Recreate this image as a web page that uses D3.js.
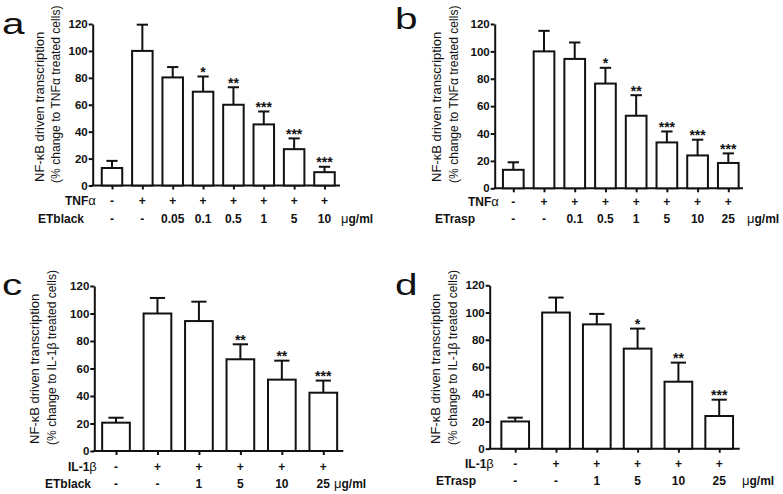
<!DOCTYPE html>
<html>
<head>
<meta charset="utf-8">
<script src="https://cdn.jsdelivr.net/npm/d3@7"></script>
<style>
  html, body { margin: 0; padding: 0; background: #ffffff; }
  svg { display: block; }
  text { font-family: "Liberation Sans", Arial, Helvetica, sans-serif; fill: #111; }
</style>
</head>
<body>
<svg id="chart" width="783" height="494"></svg>
<script>
// ---------------- DATA ----------------
const yTicks = [0, 20, 40, 60, 80, 100, 120];

// Panel a: TNFα + ETblack
const aStim  = ["-", "+", "+", "+", "+", "+", "+", "+"];
const aConc  = ["-", "-", "0.05", "0.1", "0.5", "1", "5", "10"];
const aMean  = [13, 100, 80.3, 69.7, 60, 45.4, 27, 9.9];
const aSem   = [5.3, 19.5, 7.7, 11.3, 13, 9.6, 8, 4];
const aSig   = ["", "", "", "*", "**", "***", "***", "***"];

// Panel b: TNFα + ETrasp
const bStim  = ["-", "+", "+", "+", "+", "+", "+", "+"];
const bConc  = ["-", "-", "0.1", "0.5", "1", "5", "10", "25"];
const bMean  = [13.5, 100, 94.5, 76.5, 53, 33.5, 24, 18.5];
const bSem   = [5.5, 15, 12, 11.5, 15, 8, 11.5, 7];
const bSig   = ["", "", "", "*", "**", "***", "***", "***"];

// Panel c: IL-1β + ETblack
const cStim  = ["-", "+", "+", "+", "+", "+"];
const cConc  = ["-", "-", "1", "5", "10", "25"];
const cMean  = [20.6, 100, 94.5, 66.7, 51.9, 42.4];
const cSem   = [3.6, 11.3, 14.1, 10.9, 13.8, 8.8];
const cSig   = ["", "", "", "**", "**", "***"];

// Panel d: IL-1β + ETrasp
const dStim  = ["-", "+", "+", "+", "+", "+"];
const dConc  = ["-", "-", "1", "5", "10", "25"];
const dMean  = [20, 100, 91.3, 73.5, 49.2, 24];
const dSem   = [2.8, 11, 7.7, 14.7, 14, 12];
const dSig   = ["", "", "", "*", "**", "***"];

// ---------------- LAYOUT ----------------
const svg = d3.select("#chart");
const FONT = '"Liberation Sans", Arial, Helvetica, sans-serif';

const panels = [
  { letter: "a", lx: 2, ly: 34,
    stimName: "TNF", stimGreek: "α", drugName: "ETblack",
    stim: aStim, conc: aConc, mean: aMean, sem: aSem, sig: aSig,
    x0: 92.7, x1: 340, y0: 185.5, y1: 24, c0: 112, c1: 324.5, bw: 20.5,
    lab1x: 44, lab2x: 60, labY: 182,
    row1: { x: 65, y: 205 }, row2: { x: 38, y: 222.7 }, unit: { x: 341, y: 222.7 },
    cap2: "(% change to TNF", cap2g: "α", cap2e: " treated cells)" },
  { letter: "b", lx: 395, ly: 29,
    stimName: "TNF", stimGreek: "α", drugName: "ETrasp",
    stim: bStim, conc: bConc, mean: bMean, sem: bSem, sig: bSig,
    x0: 494.7, x1: 743, y0: 188.3, y1: 24, c0: 513.3, c1: 728.3, bw: 20.7,
    lab1x: 441, lab2x: 458, labY: 182,
    row1: { x: 468, y: 206 }, row2: { x: 435, y: 222.7 }, unit: { x: 747, y: 222.7 },
    cap2: "(% change to TNF", cap2g: "α", cap2e: " treated cells)" },
  { letter: "c", lx: 2, ly: 295,
    stimName: "IL-1", stimGreek: "β", drugName: "ETblack",
    stim: cStim, conc: cConc, mean: cMean, sem: cSem, sig: cSig,
    x0: 94.3, x1: 343.3, y0: 451, y1: 286, c0: 116, c1: 323.3, bw: 27.7,
    lab1x: 39, lab2x: 56, labY: 444,
    row1: { x: 68, y: 470.5 }, row2: { x: 45, y: 487.5 }, unit: { x: 334, y: 487.5 },
    cap2: "(% change to IL-1", cap2g: "β", cap2e: " treated cells)" },
  { letter: "d", lx: 395, ly: 295,
    stimName: "IL-1", stimGreek: "β", drugName: "ETrasp",
    stim: dStim, conc: dConc, mean: dMean, sem: dSem, sig: dSig,
    x0: 489.7, x1: 739.7, y0: 448.7, y1: 285.3, c0: 515.2, c1: 719.2, bw: 27.7,
    lab1x: 440, lab2x: 457, labY: 444,
    row1: { x: 465, y: 468 }, row2: { x: 436, y: 485 }, unit: { x: 742, y: 485 },
    cap2: "(% change to IL-1", cap2g: "β", cap2e: " treated cells)" }
];

const SW = 2;

panels.forEach(p => {
  const g = svg.append("g");
  const n = p.mean.length;
  const y = d3.scaleLinear().domain([0, 120]).range([p.y0, p.y1]);
  const x = d3.scalePoint().domain(d3.range(n)).range([p.c0, p.c1]);

  // panel letter
  g.append("text")
    .attr("transform", `translate(${p.lx},${p.ly}) scale(1.35,1)`)
    .style("font-size", "30px")
    .text(p.letter);

  // y axis
  const ya = g.append("g")
    .attr("transform", `translate(${p.x0},0)`)
    .call(d3.axisLeft(y).tickValues(yTicks).tickSize(4).tickSizeOuter(0).tickPadding(1));
  ya.select(".domain").attr("stroke", "#111").attr("stroke-width", SW);
  ya.selectAll(".tick line").attr("stroke", "#111").attr("stroke-width", SW);
  ya.selectAll(".tick text")
    .style("font-family", FONT).style("font-size", "11.5px").style("font-weight", "bold")
    .attr("fill", "#111");

  // x axis baseline + ticks under each bar
  g.append("line")
    .attr("x1", p.x0 - 1).attr("x2", p.x1).attr("y1", p.y0).attr("y2", p.y0)
    .attr("stroke", "#111").attr("stroke-width", SW);
  const xa = g.append("g")
    .attr("transform", `translate(0,${p.y0})`)
    .call(d3.axisBottom(x).tickSize(4).tickSizeOuter(0).tickFormat(""));
  xa.select(".domain").remove();
  xa.selectAll(".tick line").attr("stroke", "#111").attr("stroke-width", SW);

  // bars
  g.selectAll("rect.bar").data(p.mean).join("rect")
    .attr("class", "bar")
    .attr("x", (d, i) => x(i) - p.bw / 2)
    .attr("y", d => y(d))
    .attr("width", p.bw)
    .attr("height", d => y(0) - y(d))
    .attr("fill", "#fff").attr("stroke", "#111").attr("stroke-width", SW);

  // error bars (upper)
  const cw = p.bw * 0.55;
  p.mean.forEach((m, i) => {
    const top = y(m + p.sem[i]);
    g.append("line")
      .attr("x1", x(i)).attr("x2", x(i)).attr("y1", y(m)).attr("y2", top)
      .attr("stroke", "#111").attr("stroke-width", SW);
    g.append("line")
      .attr("x1", x(i) - cw / 2).attr("x2", x(i) + cw / 2).attr("y1", top).attr("y2", top)
      .attr("stroke", "#111").attr("stroke-width", SW);
    if (p.sig[i]) {
      g.append("text")
        .attr("x", x(i)).attr("y", top + 0.5)
        .attr("text-anchor", "middle")
        .style("font-size", "14px").style("font-weight", "bold")
        .text(p.sig[i]);
    }
  });

  // y-axis title (two lines, rotated)
  g.append("text")
    .attr("transform", `translate(${p.lab1x},${p.labY}) rotate(-90)`)
    .style("font-size", "13px")
    .text("NF-κB driven transcription");
  const t2 = g.append("text")
    .attr("transform", `translate(${p.lab2x},${p.labY + 1}) rotate(-90)`)
    .style("font-size", "12.1px");
  t2.append("tspan").text(p.cap2);
  t2.append("tspan").text(p.cap2g);
  t2.append("tspan").text(p.cap2e);

  // treatment rows
  const r1 = g.append("text").attr("x", p.row1.x).attr("y", p.row1.y)
    .style("font-size", "12px");
  r1.append("tspan").style("font-weight", "bold").text(p.stimName);
  r1.append("tspan").style("font-size", "13px").text(p.stimGreek);

  g.append("text").attr("x", p.row2.x).attr("y", p.row2.y)
    .style("font-size", "12px").style("font-weight", "bold")
    .text(p.drugName);

  g.selectAll("text.s").data(p.stim).join("text")
    .attr("class", "s")
    .attr("x", (d, i) => x(i)).attr("y", p.row1.y)
    .attr("text-anchor", "middle")
    .style("font-size", "12px").style("font-weight", "bold")
    .text(d => d);

  g.selectAll("text.c").data(p.conc).join("text")
    .attr("class", "c")
    .attr("x", (d, i) => x(i)).attr("y", p.row2.y)
    .attr("text-anchor", "middle")
    .style("font-size", "12px").style("font-weight", "bold")
    .text(d => d);

  const u = g.append("text").attr("x", p.unit.x).attr("y", p.unit.y)
    .style("font-size", "12px");
  u.append("tspan").style("font-size", "13px").text("μ");
  u.append("tspan").style("font-weight", "bold").text("g/ml");
});
</script>
</body>
</html>
